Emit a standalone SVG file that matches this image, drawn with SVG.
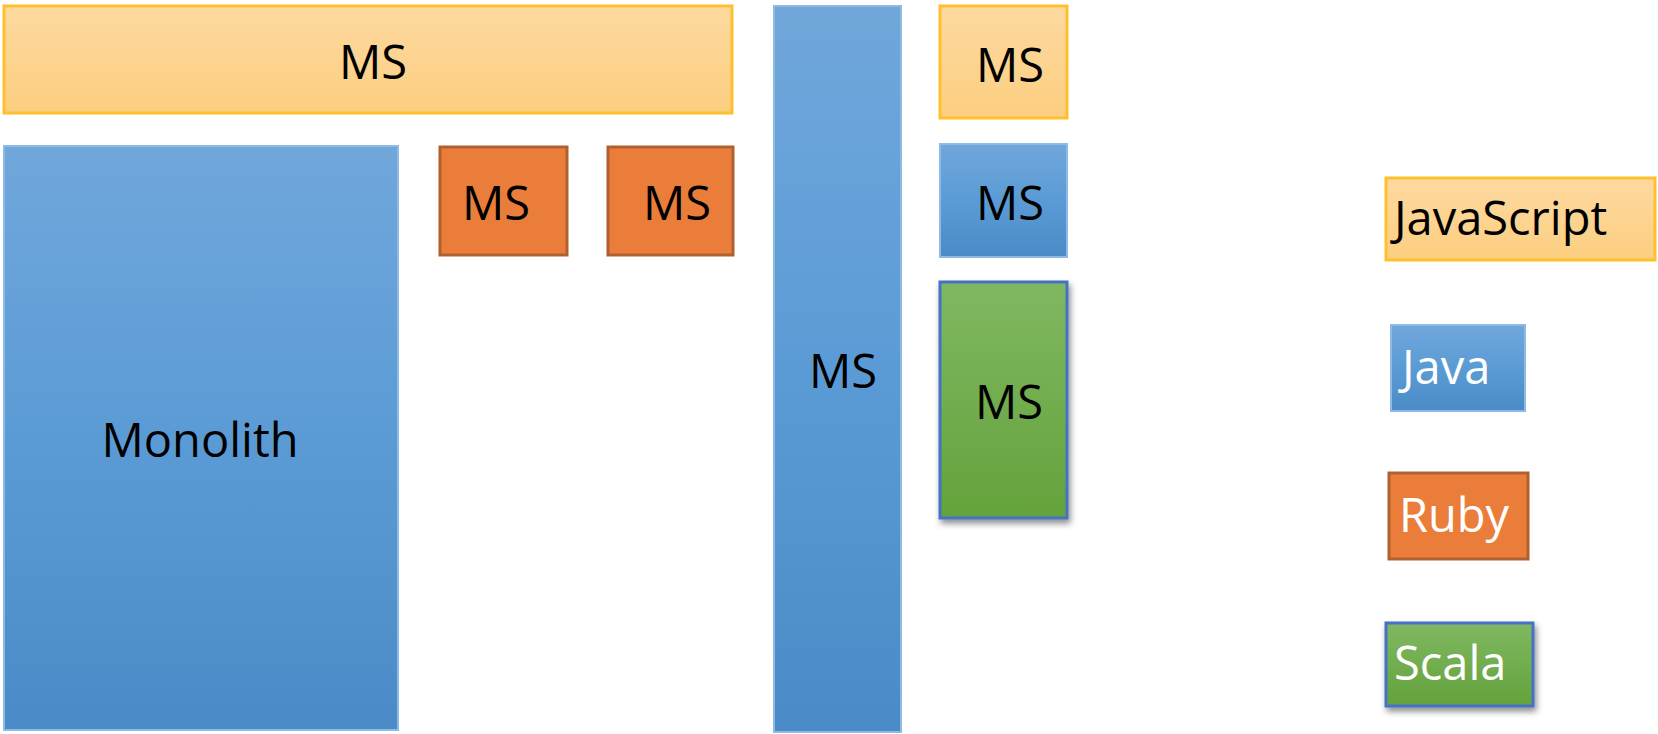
<svg xmlns="http://www.w3.org/2000/svg" width="1658" height="734" viewBox="0 0 1658 734">
<defs>
<linearGradient id="gOrange" x1="0" y1="0" x2="0" y2="1"><stop offset="0" stop-color="#FDD9A0"/><stop offset="1" stop-color="#FCCE80"/></linearGradient>
<linearGradient id="gBlue" x1="0" y1="0" x2="0" y2="1"><stop offset="0" stop-color="#70A7DB"/><stop offset="0.5" stop-color="#5B9BD5"/><stop offset="1" stop-color="#4A8BC7"/></linearGradient>
<linearGradient id="gGreen" x1="0" y1="0" x2="0" y2="1"><stop offset="0" stop-color="#80B862"/><stop offset="1" stop-color="#64A23C"/></linearGradient>
<filter id="shadow" x="-20%" y="-20%" width="150%" height="150%"><feDropShadow dx="2" dy="4" stdDeviation="3" flood-color="#000" flood-opacity="0.45"/></filter>
<style>
.js{fill:url(#gOrange);stroke:#FFC02E;stroke-width:3}
.java{fill:url(#gBlue);stroke:#8DBBE6;stroke-width:2}
.ruby{fill:#EB7D3B;stroke:#B0602F;stroke-width:3}
.scala{fill:url(#gGreen);stroke:#4472C4;stroke-width:3;filter:url(#shadow)}
text{font-family:"Open Sans","Liberation Sans",sans-serif;font-size:47px}
.lbl{fill:#000;text-anchor:middle}
.leg{fill:#FFF}
.legd{fill:#000}
</style>
</defs>
<g id="ms-top"><rect class="js" x="4" y="6" width="728" height="107"/><text class="lbl" x="373" y="79">MS</text></g>
<g id="monolith"><rect class="java" x="4" y="146" width="394" height="584"/><text class="lbl" x="200" y="457">Monolith</text></g>
<g id="ms-ruby1"><rect class="ruby" x="440" y="147" width="127" height="108"/><text class="lbl" x="496" y="220">MS</text></g>
<g id="ms-ruby2"><rect class="ruby" x="608" y="147" width="125" height="108"/><text class="lbl" x="677" y="220">MS</text></g>
<g id="ms-tall"><rect class="java" x="774" y="6" width="127" height="726"/><text class="lbl" x="843" y="388">MS</text></g>
<g id="ms-js-right"><rect class="js" x="940" y="6" width="127" height="112"/><text class="lbl" x="1010" y="82">MS</text></g>
<g id="ms-java-right"><rect class="java" x="940" y="144" width="127" height="113"/><text class="lbl" x="1010" y="220">MS</text></g>
<g id="ms-scala"><rect class="scala" x="940" y="282" width="127" height="236"/><text class="lbl" x="1009" y="419">MS</text></g>
<g id="legend-js"><rect class="js" x="1386" y="178" width="269" height="82"/><text class="legd" x="1394" y="235">JavaScript</text></g>
<g id="legend-java"><rect class="java" x="1391" y="325" width="134" height="86"/><text class="leg" x="1402" y="384">Java</text></g>
<g id="legend-ruby"><rect class="ruby" x="1389" y="473" width="139" height="86"/><text class="leg" x="1399" y="532">Ruby</text></g>
<g id="legend-scala"><rect class="scala" x="1386" y="623" width="147" height="83"/><text class="leg" x="1394" y="680">Scala</text></g>
<g id="connectors"></g>
</svg>
